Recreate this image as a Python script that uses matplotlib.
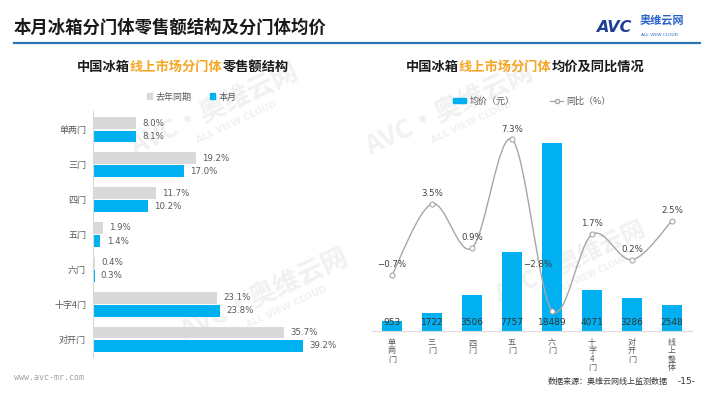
import matplotlib
matplotlib.use("Agg")
import matplotlib.pyplot as plt
import numpy as np
from matplotlib.path import Path
from matplotlib.patches import PathPatch, Patch
from matplotlib.lines import Line2D
from matplotlib.offsetbox import TextArea, HPacker, AnnotationBbox

plt.rcParams['font.family'] = ['Noto Sans CJK SC', 'DejaVu Sans']

# ---------------- data ----------------
share_categories = ["单两门", "三门", "四门", "五门", "六门", "十字4门", "对开门"]
share_last_year = [8.0, 19.2, 11.7, 1.9, 0.4, 23.1, 35.7]
share_this_month = [8.1, 17.0, 10.2, 1.4, 0.3, 23.8, 39.2]

price_categories = ["单两门", "三门", "四门", "五门", "六门", "十字4门", "对开门", "线上整体"]
avg_price = [953, 1722, 3506, 7757, 18489, 4071, 3286, 2548]
yoy_pct = [-0.7, 3.5, 0.9, 7.3, -2.8, 1.7, 0.2, 2.5]

BLUE = "#00B0F0"
GRAY = "#D9D9D9"
ORANGE = "#F5A623"
TXT = "#595959"

W, H = 710, 399
fig = plt.figure(figsize=(7.1, 3.99), dpi=100)
fig.patch.set_facecolor("white")

def fx(px):
    return px / W

def fy(py):
    return 1 - py / H

# ---------------- watermarks (background layer) ----------------
bg = fig.add_axes([0, 0, 1, 1], zorder=-5)
bg.set_xlim(0, W)
bg.set_ylim(H, 0)
bg.axis("off")
for (x, y, s) in [(215, 110, 19), (265, 295, 19), (450, 110, 19), (570, 262, 17)]:
    bg.text(x, y, "AVC·奥维云网", fontsize=s, color="#F1F1F1", rotation=25,
            ha="center", va="center", fontweight="bold")
    bg.text(x + 22, y + 12, "ALL VIEW CLOUD", fontsize=s * 0.35, color="#F1F1F1",
            rotation=25, ha="center", va="center", fontweight="bold", family="DejaVu Sans")

# ---------------- header ----------------
fig.text(fx(14), fy(28), "本月冰箱分门体零售额结构及分门体均价", fontsize=12.5,
         fontweight="bold", color="#1a1a1a", ha="left", va="center")
fig.add_artist(Line2D([fx(14), fx(700)], [fy(43), fy(43)], color="#2E75B6", lw=1.6))
fig.text(fx(596), fy(27), "AVC", fontsize=11.5, fontweight="bold", style="italic",
         color="#1F3F95", ha="left", va="center", family="DejaVu Sans")
fig.text(fx(640), fy(21), "奥维云网", fontsize=8, fontweight="bold",
         color="#2A62C9", ha="left", va="center")
fig.text(fx(641), fy(34.5), "ALL VIEW CLOUD", fontsize=3.2, color="#2A62C9",
         ha="left", va="center", family="DejaVu Sans")

# ---------------- mixed colour titles ----------------
def mixed_title(parts, x, y):
    boxes = [TextArea(t, textprops=dict(color=c, fontsize=9.5, fontweight="bold"))
             for t, c in parts]
    pack = HPacker(children=boxes, align="baseline", pad=0, sep=0)
    ab = AnnotationBbox(pack, (fx(x), fy(y)), xycoords="figure fraction",
                        frameon=False, box_alignment=(0.5, 0.5), pad=0)
    fig.add_artist(ab)

mixed_title([("中国冰箱", "#1a1a1a"), ("线上市场分门体", ORANGE), ("零售额结构", "#1a1a1a")], 183, 67)
mixed_title([("中国冰箱", "#1a1a1a"), ("线上市场分门体", ORANGE), ("均价及同比情况", "#1a1a1a")], 525, 67)

# ---------------- left chart ----------------
top_px, bot_px = 110.75, 356.5
ax1 = fig.add_axes([fx(93), fy(bot_px), 241 / W, (bot_px - top_px) / H])
ax1.set_xlim(0, 45)
ax1.set_ylim(6.5, -0.55)
yy = np.arange(len(share_categories))
bh = 0.34
off = 0.19
ax1.barh(yy - off, share_last_year, height=bh, color=GRAY, zorder=2)
ax1.barh(yy + off, share_this_month, height=bh, color=BLUE, zorder=2)
for i in range(len(share_categories)):
    ax1.annotate(f"{share_last_year[i]:.1f}%", (share_last_year[i], yy[i] - off),
                 xytext=(4.5, 0), textcoords="offset points", fontsize=6.2,
                 color=TXT, va="center", ha="left", family="DejaVu Sans")
    ax1.annotate(f"{share_this_month[i]:.1f}%", (share_this_month[i], yy[i] + off),
                 xytext=(4.5, 0), textcoords="offset points", fontsize=6.2,
                 color=TXT, va="center", ha="left", family="DejaVu Sans")
ax1.set_yticks(yy)
ax1.set_yticklabels(share_categories, fontsize=6.5, color=TXT)
ax1.tick_params(axis="y", length=0, pad=5)
ax1.set_xticks([])
for s in ["top", "right", "bottom"]:
    ax1.spines[s].set_visible(False)
ax1.spines["left"].set_color("#D9D9D9")
ax1.spines["left"].set_linewidth(0.8)
ax1.patch.set_alpha(0)

ax1.legend(handles=[Patch(color=GRAY, label="去年同期"), Patch(color=BLUE, label="本月")],
           loc="center", bbox_to_anchor=(fx(192), fy(97)), bbox_transform=fig.transFigure,
           ncol=2, frameon=False, fontsize=6.5, handlelength=0.6, handleheight=0.6,
           handletextpad=0.4, columnspacing=2.0, labelcolor=TXT)

# ---------------- right chart ----------------
rtop, rbot = 127.6, 331
ax2 = fig.add_axes([fx(372), fy(rbot), 320 / W, (rbot - rtop) / H])
ax2.set_xlim(-0.5, 7.5)
ax2.set_ylim(0, 20000)
xx = np.arange(len(price_categories))
ax2.bar(xx, avg_price, width=0.52, color=BLUE, zorder=2)
for i, v in enumerate(avg_price):
    ax2.annotate(f"{v}", (xx[i], 0), xytext=(0, 5.8), textcoords="offset points",
                 ha="center", va="center", fontsize=6.5, color="#333333",
                 family="DejaVu Sans", zorder=5)
ax2.set_xticks(xx)
ax2.set_xticklabels(["\n".join(list(c)) for c in price_categories],
                    fontsize=5.8, color=TXT, linespacing=0.9, va="top")
ax2.tick_params(axis="x", length=0, pad=5)
ax2.set_yticks([])
for s in ["top", "right", "left"]:
    ax2.spines[s].set_visible(False)
ax2.spines["bottom"].set_color("#D9D9D9")
ax2.spines["bottom"].set_linewidth(0.8)
ax2.patch.set_alpha(0)

ax3 = ax2.twinx()
ax3.set_ylim(-4, 8)
ax3.set_yticks([])
for s in ax3.spines.values():
    s.set_visible(False)

# smooth curve (Catmull-Rom -> cubic Bezier) through the yoy points
P = np.column_stack([xx, yoy_pct]).astype(float)
n = len(P)
verts = [P[0]]
codes = [Path.MOVETO]
for i in range(n - 1):
    p0 = P[i - 1] if i > 0 else P[i]
    p1, p2 = P[i], P[i + 1]
    p3 = P[i + 2] if i + 2 < n else P[i + 1]
    c1 = p1 + (p2 - p0) / 6
    c2 = p2 - (p3 - p1) / 6
    verts += [c1, c2, p2]
    codes += [Path.CURVE4] * 3
ax3.add_patch(PathPatch(Path(verts, codes), facecolor="none", edgecolor="#A6A6A6",
                        lw=1.0, zorder=3))
ax3.plot(xx, yoy_pct, ls="none", marker="o", ms=3.6, mfc="white", mec="#A6A6A6",
         mew=0.8, zorder=4)
for i, v in enumerate(yoy_pct):
    lab = f"{v:.1f}%".replace("-", "\u2212")
    if i == 4:
        ax3.annotate(lab, (xx[i], v), xytext=(-10, 33), textcoords="offset points",
                     ha="center", va="center", fontsize=6.2, color="#404040",
                     family="DejaVu Sans", zorder=5)
    else:
        ax3.annotate(lab, (xx[i], v), xytext=(0, 7.5), textcoords="offset points",
                     ha="center", va="center", fontsize=6.2, color="#404040",
                     family="DejaVu Sans", zorder=5)

ax2.legend(handles=[Patch(color=BLUE, label="均价（元）"),
                    Line2D([0], [0], color="#A6A6A6", lw=0.9, marker="o", ms=3,
                           mfc="white", mec="#A6A6A6", label="同比（%）")],
           loc="center", bbox_to_anchor=(fx(532), fy(101)), bbox_transform=fig.transFigure,
           ncol=2, frameon=False, fontsize=6.5, handlelength=1.4, handleheight=0.5,
           handletextpad=0.4, columnspacing=4.0, labelcolor=TXT)

# ---------------- footer ----------------
fig.text(fx(14), fy(378), "www.avc-mr.com", fontsize=6, color="#A0A0A0",
         ha="left", va="center", family="DejaVu Sans Mono")
fig.text(fx(548), fy(381), "数据来源：奥维云网线上监测数据", fontsize=5.8,
         color="#333333", ha="left", va="center")
fig.text(fx(678), fy(381), "-15-", fontsize=6.5, color="#333333",
         ha="left", va="center", family="DejaVu Sans")

fig.savefig("out.png", dpi=100)
